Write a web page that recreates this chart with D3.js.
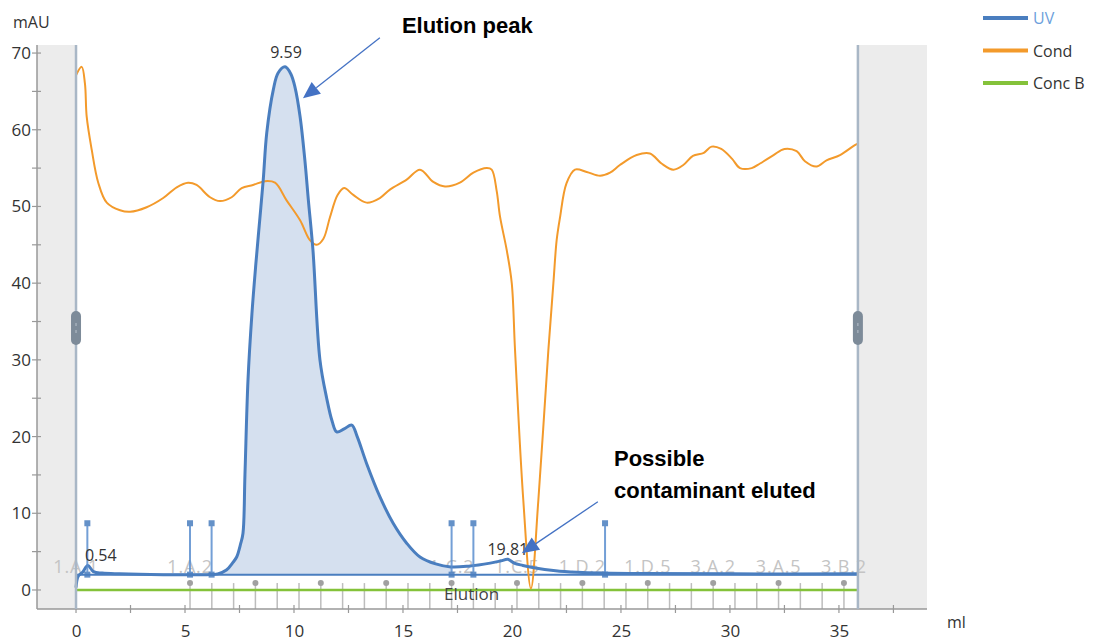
<!DOCTYPE html>
<html>
<head>
<meta charset="utf-8">
<script src="https://cdn.jsdelivr.net/npm/d3@7"></script>
<style>
  html, body { margin: 0; padding: 0; background: #fff; }
  svg { display: block; font-family: "Open Sans", "Noto Sans", sans-serif; }
</style>
</head>
<body>
<svg id="chart" width="1094" height="642"></svg>
<script>
// ---------- DATA ----------
const uvVolume = [0, 0.1, 0.3, 0.54, 0.8, 1.2, 2, 4, 6, 6.5, 6.9, 7.2, 7.37, 7.55, 7.66, 7.75, 7.89, 8.07, 8.25, 8.42, 8.59, 8.75, 9.05, 9.27, 9.59, 9.85, 10.05, 10.28, 10.5, 10.66, 10.87, 11.19, 11.5, 11.75, 11.96, 12.3, 12.65, 12.9, 13.33, 13.95, 14.55, 15.17, 15.78, 16.5, 17.2, 18, 19, 19.5, 19.81, 20.1, 20.5, 21, 22, 23, 24, 26, 30, 35.87];
const uvValue  = [0.3, 1.8, 2.3, 3.2, 2.4, 2.2, 2.1, 2.0, 2.0, 2.1, 2.6, 3.6, 4.3, 6.0, 7.4, 15, 27.4, 36, 42.5, 48, 53.5, 59.6, 65.2, 67.4, 68.2, 67.3, 65.5, 61.7, 56, 50.8, 44.3, 30, 25, 22, 20.6, 21.0, 21.5, 20, 16.5, 12.1, 8.7, 6.1, 4.3, 3.4, 3.0, 3.1, 3.5, 3.8, 4.0, 3.5, 3.2, 2.9, 2.5, 2.3, 2.2, 2.15, 2.1, 2.1];

const condVolume = [0, 0.26, 0.41, 0.49, 0.72, 1.02, 1.41, 2.02, 2.48, 3.24, 4.0, 4.62, 5.14, 5.53, 6.15, 6.6, 7.14, 7.6, 8.12, 8.67, 9.13, 9.66, 10.28, 10.73, 11.04, 11.35, 11.65, 12.0, 12.3, 12.72, 13.33, 13.94, 14.4, 15.17, 15.78, 16.39, 16.93, 17.61, 18.23, 18.84, 19.07, 19.3, 19.45, 19.76, 19.99, 20.14, 20.52, 20.87, 21.21, 21.67, 21.9, 22.05, 22.2, 22.5, 22.89, 23.43, 24.04, 24.5, 24.95, 25.72, 26.33, 26.86, 27.4, 27.86, 28.3, 28.8, 29.16, 29.6, 30.1, 30.46, 31.0, 31.38, 32.0, 32.5, 33.06, 33.44, 33.97, 34.43, 35.05, 35.73, 35.87];
const condValue  = [67.1, 68.2, 66, 61.7, 57.4, 53.1, 50.5, 49.5, 49.3, 49.9, 51.1, 52.5, 53.1, 52.8, 51.2, 50.7, 51.2, 52.4, 52.8, 53.3, 53.1, 50.8, 48.2, 45.6, 45.0, 45.8, 48.6, 51.5, 52.4, 51.5, 50.5, 51.1, 52.2, 53.5, 54.8, 53.2, 52.6, 53.1, 54.4, 55.0, 54.8, 52, 48.7, 44.3, 40.0, 31.3, 11.7, 0.2, 11.7, 31.3, 40, 45.6, 48.5, 53.0, 54.8, 54.5, 54.0, 54.4, 55.4, 56.7, 56.9, 55.6, 54.8, 55.4, 56.6, 57.0, 57.8, 57.5, 56.2, 55.0, 55.0, 55.6, 56.7, 57.5, 57.2, 55.9, 55.2, 56.0, 56.7, 58.0, 58.2];

const concBVolume = [0, 35.87];
const concBValue  = [0, 0];

const peakVolumes = [0.54, 9.59, 19.81];
const peakLabels  = ["0.54", "9.59", "19.81"];

const peakBaselineValue = 2.0;
const peakStart = 6.22, peakEnd = 17.23;

const eventVolumes = [0.52, 5.23, 6.22, 17.23, 18.23, 24.27];
const eventTopValue = 8.7;

const fractionVolumes = [5.23, 6.23, 7.23, 8.23, 9.23, 10.23, 11.23, 12.23, 13.23, 14.23, 15.23, 16.23, 17.23, 18.23, 19.23, 20.23, 21.23, 22.23, 23.23, 24.23, 25.23, 26.23, 27.23, 28.23, 29.23, 30.23, 31.23, 32.23, 33.23, 34.23, 35.23];
const fractionLabelVolumes = [0, 5.23, 8.23, 11.23, 14.23, 17.23, 20.23, 23.23, 26.23, 29.23, 32.23, 35.23];
const fractionLabels = ["1.A.1", "1.A.2", "1.A.5", "1.B.2", "1.B.5", "1.C.2", "1.C.5", "1.D.2", "1.D.5", "3.A.2", "3.A.5", "3.B.2"];

const xTicks = [0, 5, 10, 15, 20, 25, 30, 35];
const yTicks = [0, 10, 20, 30, 40, 50, 60, 70];

const legendNames  = ["UV", "Cond", "Conc B"];
const legendColors = ["#4a7ebf", "#f39a2b", "#84c23a"];

const runStart = 0, runEnd = 35.87;
const xDomain = [-1.79, 39.04];
const yDomain = [-2.48, 71.05];

// annotations (data units)
const annPeakText = { v: 14.95, y: 72.6, lines: ["Elution peak"] };
const annPeakArrow = { from: [13.94, 72.0], to: [10.41, 64.1] };
const annContText = { v: 24.68, y: 16.2, lines: ["Possible", "contaminant eluted"] };
const annContArrow = { from: [23.94, 11.5], to: [20.45, 4.8] };

// ---------- CHART ----------
const svg = d3.select("#chart");
const pL = 37, pR = 927, pT = 45, pB = 609;
const x = d3.scaleLinear().domain(xDomain).range([pL, pR]);
const y = d3.scaleLinear().domain(yDomain).range([pB, pT]);
const txtColor = "#333";
const uvColor = "#4a7ebf", condColor = "#f39a2b", concColor = "#84c23a";
const smooth = d3.curveCatmullRom.alpha(0.5);

// gray side panels
svg.append("rect").attr("x", x(xDomain[0])).attr("y", pT)
  .attr("width", x(runStart) - x(xDomain[0])).attr("height", pB - pT).attr("fill", "#ececec");
svg.append("rect").attr("x", x(runEnd)).attr("y", pT)
  .attr("width", x(xDomain[1]) - x(runEnd)).attr("height", pB - pT).attr("fill", "#ececec");

// fraction lines
svg.append("g").selectAll("line").data(fractionVolumes).join("line")
  .attr("x1", d => x(d)).attr("x2", d => x(d))
  .attr("y1", y(0.9)).attr("y2", pB)
  .attr("stroke", "#bdbdbd").attr("stroke-width", 1.5);
svg.append("g").selectAll("circle").data(fractionLabelVolumes.filter(d => d > 0)).join("circle")
  .attr("cx", d => x(d)).attr("cy", y(0.9)).attr("r", 3).attr("fill", "#a0a0a0");
svg.append("g").selectAll("text").data(fractionLabelVolumes).join("text")
  .attr("x", d => x(d)).attr("y", y(2.2))
  .attr("text-anchor", "middle").attr("font-size", 18).attr("letter-spacing", 0.8)
  .attr("fill", "#c4c4c4")
  .text((d, i) => fractionLabels[i]);

// axes
const yAxis = d3.axisLeft(y).tickValues(yTicks).tickSize(0).tickFormat(d3.format("d"));
const gy = svg.append("g").attr("transform", `translate(${pL},0)`).call(yAxis);
gy.select(".domain").remove();
gy.selectAll("text").attr("font-size", 17).attr("fill", txtColor).attr("x", -6)
  .attr("font-family", "'Open Sans', sans-serif");
svg.append("line").attr("x1", pL).attr("x2", pL).attr("y1", pT).attr("y2", pB)
  .attr("stroke", "#999").attr("stroke-width", 1.5);
const yMinor = d3.range(0, 71, 5);
svg.append("g").selectAll("line").data(yMinor).join("line")
  .attr("x1", pL - 5).attr("x2", pL + 4).attr("y1", d => y(d)).attr("y2", d => y(d))
  .attr("stroke", "#999").attr("stroke-width", 1.2);

const xAxis = d3.axisBottom(x).tickValues(xTicks).tickSize(0).tickFormat(d3.format("d"));
const gx = svg.append("g").attr("transform", `translate(0,${pB})`).call(xAxis);
gx.select(".domain").remove();
gx.selectAll("text").attr("font-size", 17).attr("fill", txtColor).attr("dy", 0).attr("y", 28)
  .attr("font-family", "'Open Sans', sans-serif");
svg.append("line").attr("x1", pL).attr("x2", pR).attr("y1", pB).attr("y2", pB)
  .attr("stroke", "#999").attr("stroke-width", 1.5);
const xMinor = d3.range(0, 38, 2.5);
svg.append("g").selectAll("line").data(xMinor).join("line")
  .attr("x1", d => x(d)).attr("x2", d => x(d)).attr("y1", pB - 4).attr("y2", pB + 4)
  .attr("stroke", "#999").attr("stroke-width", 1.2);

svg.append("text").attr("x", 13).attr("y", 28).attr("font-size", 16).attr("fill", txtColor).text("mAU");
svg.append("text").attr("x", 947).attr("y", 628).attr("font-size", 16).attr("fill", txtColor).text("ml");

// Conc B
const concData = concBVolume.map((v, i) => [v, concBValue[i]]);
svg.append("path").datum(concData)
  .attr("d", d3.line().x(d => x(d[0])).y(d => y(d[1])))
  .attr("fill", "none").attr("stroke", concColor).attr("stroke-width", 2.5);

// UV fill
const uvData = uvVolume.map((v, i) => [v, uvValue[i]]);
const fillData = uvData.filter(d => d[0] >= peakStart - 0.3 && d[0] <= peakEnd + 0.01);
svg.append("path").datum(fillData)
  .attr("d", d3.area().x(d => x(d[0])).y0(y(peakBaselineValue)).y1(d => y(Math.max(d[1], peakBaselineValue))).curve(smooth))
  .attr("fill", "#d5e0ef");

// UV baseline
svg.append("line").attr("x1", x(runStart)).attr("x2", x(runEnd))
  .attr("y1", y(peakBaselineValue)).attr("y2", y(peakBaselineValue))
  .attr("stroke", uvColor).attr("stroke-width", 2);

// Cond
const condData = condVolume.map((v, i) => [v, condValue[i]]);
svg.append("path").datum(condData)
  .attr("d", d3.line().x(d => x(d[0])).y(d => y(d[1])).curve(smooth))
  .attr("fill", "none").attr("stroke", condColor).attr("stroke-width", 2);

// UV line
svg.append("path").datum(uvData)
  .attr("d", d3.line().x(d => x(d[0])).y(d => y(d[1])).curve(smooth))
  .attr("fill", "none").attr("stroke", uvColor).attr("stroke-width", 3).attr("stroke-linejoin", "round");

// border lines and handles
[runStart, runEnd].forEach(v => {
  svg.append("line").attr("x1", x(v)).attr("x2", x(v)).attr("y1", pT).attr("y2", pB)
    .attr("stroke", "#a9b7c6").attr("stroke-width", 2.5);
  svg.append("rect").attr("x", x(v) - 5).attr("y", 311).attr("width", 10).attr("height", 34)
    .attr("rx", 5).attr("fill", "#7d8b99");
  svg.append("line").attr("x1", x(v)).attr("x2", x(v)).attr("y1", 323).attr("y2", 326)
    .attr("stroke", "#b8c2cc").attr("stroke-width", 1);
  svg.append("line").attr("x1", x(v)).attr("x2", x(v)).attr("y1", 330).attr("y2", 333)
    .attr("stroke", "#b8c2cc").attr("stroke-width", 1);
});

// event stems
const ev = svg.append("g").attr("opacity", 0.85);
ev.selectAll("line").data(eventVolumes).join("line")
  .attr("x1", d => x(d)).attr("x2", d => x(d))
  .attr("y1", y(eventTopValue)).attr("y2", y(peakBaselineValue))
  .attr("stroke", "#5b8fd0").attr("stroke-width", 2);
ev.selectAll("rect.top").data(eventVolumes).join("rect").attr("class", "top")
  .attr("x", d => x(d) - 3).attr("y", y(eventTopValue) - 3).attr("width", 6).attr("height", 6)
  .attr("fill", "#4a7ebf");
ev.selectAll("rect.bot").data(eventVolumes).join("rect").attr("class", "bot")
  .attr("x", d => x(d) - 3).attr("y", y(peakBaselineValue) - 3).attr("width", 6).attr("height", 6)
  .attr("fill", "#4a7ebf");
svg.append("text").attr("x", x(17.23) + 20).attr("y", 600).attr("text-anchor", "middle")
  .attr("font-size", 17).attr("fill", "#444").text("Elution");

// peak labels
svg.append("g").selectAll("text").data(peakVolumes).join("text")
  .attr("x", (d, i) => x(d) + (i === 0 ? 13 : i === 2 ? 0 : 1))
  .attr("y", (d, i) => y(d3.max(uvData.filter(p => Math.abs(p[0] - d) < 0.01), p => p[1])) - (i === 1 ? 9 : 4))
  .attr("text-anchor", "middle").attr("font-size", 16).attr("fill", txtColor)
  .text((d, i) => peakLabels[i]);

// legend
const lg = svg.append("g");
legendNames.forEach((n, i) => {
  const yy = 18 + i * 32.5;
  lg.append("line").attr("x1", 983).attr("x2", 1028).attr("y1", yy).attr("y2", yy)
    .attr("stroke", legendColors[i]).attr("stroke-width", 4);
  lg.append("text").attr("x", 1033).attr("y", yy + 6).attr("font-size", 16)
    .attr("fill", i === 0 ? "#6d9fdc" : "#333").text(n);
});

// annotations
function arrow(a) {
  const x1 = x(a.from[0]), y1 = y(a.from[1]), x2 = x(a.to[0]), y2 = y(a.to[1]);
  const ang = Math.atan2(y2 - y1, x2 - x1);
  const L = 17, W = 7.5;
  const bx = x2 - L * Math.cos(ang), by = y2 - L * Math.sin(ang);
  svg.append("line").attr("x1", x1).attr("y1", y1).attr("x2", bx).attr("y2", by)
    .attr("stroke", "#4472c4").attr("stroke-width", 1.3);
  const p = [[x2, y2], [bx + W * Math.sin(ang), by - W * Math.cos(ang)], [bx - W * Math.sin(ang), by + W * Math.cos(ang)]];
  svg.append("polygon").attr("points", p.map(q => q.join(",")).join(" ")).attr("fill", "#4472c4");
}
arrow(annPeakArrow);
arrow(annContArrow);
function annText(a) {
  const t = svg.append("text").attr("x", x(a.v)).attr("y", y(a.y))
    .attr("font-family", "'Liberation Sans', Arial, sans-serif").attr("font-weight", "bold")
    .attr("font-size", 22).attr("fill", "#000");
  a.lines.forEach((l, i) => t.append("tspan").attr("x", x(a.v)).attr("dy", i === 0 ? 0 : 32).text(l));
}
annText(annPeakText);
annText(annContText);
</script>
</body>
</html>
